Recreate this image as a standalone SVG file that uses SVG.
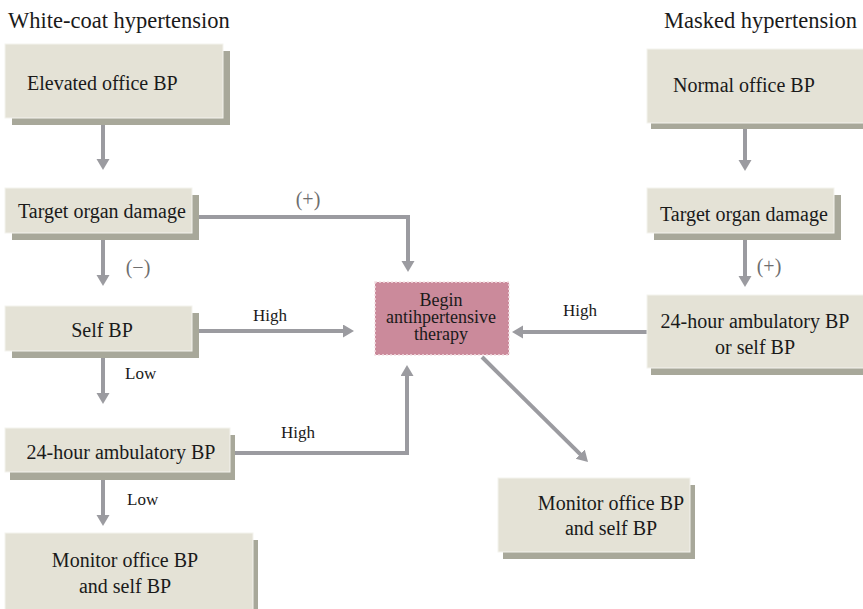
<svg xmlns="http://www.w3.org/2000/svg" width="863" height="609" viewBox="0 0 863 609" font-family="'Liberation Serif', Tinos, 'DejaVu Serif', serif">
<style>
  text { font-family: 'Liberation Serif', Tinos, 'Times New Roman', 'DejaVu Serif', serif; fill: #1a1a1a; }
  .title { font-size: 22.5px; }
  .bt { font-size: 20px; }
  .mt { font-size: 18px; }
  .lbl { font-size: 17px; }
  .sign { font-size: 20px; fill: #6e6e6e; }
  .box { fill: #e4e2d6; stroke: #f4f3ee; stroke-width: 1; }
  .shadow { fill: #a8a89a; }
  .conn { fill: none; stroke: #9b9ba0; stroke-width: 4; marker-end: url(#ah); }
  .mid { fill: #cb8a9b; stroke: #f3dfe4; stroke-width: 1.5; stroke-dasharray: 2 2; }
  .c { text-anchor: middle; }
</style>
<defs>
  <marker id="ah" markerUnits="userSpaceOnUse" markerWidth="12" markerHeight="14" refX="1" refY="6.5" orient="auto">
    <path d="M0,0 L11,6.5 L0,13 z" fill="#9b9ba0"/>
  </marker>
</defs>
<rect width="863" height="609" fill="#ffffff"/>

<text class="title" x="8" y="28">White-coat hypertension</text>
<text class="title" x="857" y="28" text-anchor="end">Masked hypertension</text>

<g id="connectors">
  <path class="conn" d="M103,124 V160"/>
  <path class="conn" d="M199,217 H408 V262"/>
  <path class="conn" d="M103,240 V276"/>
  <path class="conn" d="M199,331 H344"/>
  <path class="conn" d="M103,358 V394"/>
  <path class="conn" d="M235,453 H407 V375"/>
  <path class="conn" d="M103,480 V516"/>
  <path class="conn" d="M745,129 V161"/>
  <path class="conn" d="M745,240 V277"/>
  <path class="conn" d="M647,332 H522"/>
  <path class="conn" d="M482,357 L580.9,454.9"/>
  <text class="sign c" x="308" y="206">(+)</text>
  <text class="sign c" x="138" y="274">(−)</text>
  <text class="sign c" x="769" y="273">(+)</text>
  <text class="lbl c" x="270" y="321">High</text>
  <text class="lbl" x="125" y="379">Low</text>
  <text class="lbl c" x="298" y="438">High</text>
  <text class="lbl" x="127" y="505">Low</text>
  <text class="lbl c" x="580" y="316">High</text>
</g>

<g id="elevated-office">
  <rect class="shadow" x="12" y="51" width="218" height="74"/>
  <rect class="box" x="5" y="44" width="218" height="74"/>
  <text class="bt" x="27" y="90">Elevated office BP</text>
</g>
<g id="tod-left">
  <rect class="shadow" x="12" y="195" width="187" height="45"/>
  <rect class="box" x="5" y="188" width="187" height="45"/>
  <text class="bt" x="18" y="218">Target organ damage</text>
</g>
<g id="self-bp">
  <rect class="shadow" x="12" y="313" width="187" height="45"/>
  <rect class="box" x="5" y="306" width="187" height="45"/>
  <text class="bt c" x="102" y="337">Self BP</text>
</g>
<g id="abpm-left">
  <rect class="shadow" x="10" y="435" width="225" height="45"/>
  <rect class="box" x="5" y="428" width="225" height="44"/>
  <text class="bt c" x="121" y="459">24-hour ambulatory BP</text>
</g>
<g id="monitor-left">
  <rect class="shadow" x="10" y="540" width="248" height="76"/>
  <rect class="box" x="5" y="533" width="248" height="80"/>
  <text class="bt c" x="125" y="567">Monitor office BP</text>
  <text class="bt c" x="125" y="593">and self BP</text>
</g>
<g id="begin-therapy">
  <rect class="mid" x="375" y="282" width="134" height="73"/>
  <text class="mt c" x="441" y="306">Begin</text>
  <text class="mt c" x="441" y="323">antihpertensive</text>
  <text class="mt c" x="441" y="340">therapy</text>
</g>
<g id="normal-office">
  <rect class="shadow" x="651" y="55" width="225" height="74"/>
  <rect class="box" x="647" y="49" width="225" height="74"/>
  <text class="bt" x="673" y="92">Normal office BP</text>
</g>
<g id="tod-right">
  <rect class="shadow" x="654" y="195" width="187" height="45"/>
  <rect class="box" x="647" y="188" width="187" height="45"/>
  <text class="bt" x="660" y="221">Target organ damage</text>
</g>
<g id="abpm-right">
  <rect class="shadow" x="651" y="302" width="225" height="73"/>
  <rect class="box" x="647" y="295" width="225" height="73"/>
  <text class="bt c" x="755" y="328">24-hour ambulatory BP</text>
  <text class="bt c" x="755" y="354">or self BP</text>
</g>
<g id="monitor-right">
  <rect class="shadow" x="503" y="485" width="192" height="74"/>
  <rect class="box" x="498" y="478" width="192" height="74"/>
  <text class="bt c" x="611" y="510">Monitor office BP</text>
  <text class="bt c" x="611" y="535">and self BP</text>
</g>
</svg>
